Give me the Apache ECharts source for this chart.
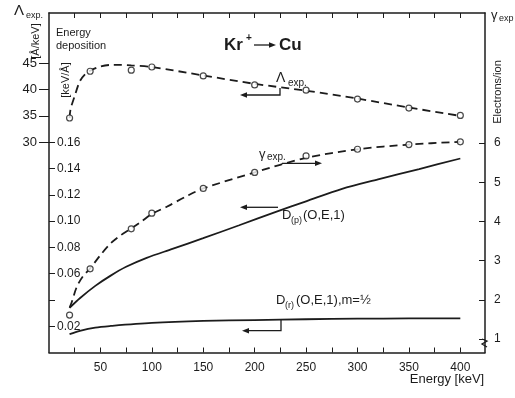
<!DOCTYPE html>
<html>
<head>
<meta charset="utf-8">
<script src="https://cdn.jsdelivr.net/npm/echarts@6/dist/echarts.min.js"></script>
<style>
  html, body { margin: 0; padding: 0; background: #fff; }
  #chart { width: 515px; height: 398px; }
</style>
</head>
<body>
<div id="chart"></div>
<script>
  // axis ticks / labels
  var energyTicks = [25, 50, 75, 100, 125, 150, 175, 200, 225, 250, 275, 300, 325, 350, 375, 400];
  var energyLabels = [50, 100, 150, 200, 250, 300, 350, 400];
  var lambdaTicks = [30, 35, 40, 45];
  var depTicks = [0.02, 0.04, 0.06, 0.08, 0.10, 0.12, 0.14, 0.16];
  var depLabels = [0.02, 0.06, 0.08, 0.10, 0.12, 0.14, 0.16];
  var gammaTicks = [1, 2, 3, 4, 5, 6];

  // measured points (circles)
  var expEnergy = [20, 40, 80, 100, 150, 200, 250, 300, 350, 400];
  var lambdaExp = [34.6, 43.5, 43.7, 44.3, 42.6, 40.9, 39.9, 38.2, 36.5, 35.1];
  var gammaExp = [1.61, 2.79, 3.81, 4.21, 4.84, 5.25, 5.67, 5.84, 5.96, 6.03];

  // dashed curves through the points
  var lambdaFitE = [20, 21, 25, 30, 35, 40, 50, 60, 70, 80, 100, 150, 200, 250, 300, 350, 400];
  var lambdaFit = [34.6, 36.3, 38.8, 41.6, 42.9, 43.6, 44.4, 44.7, 44.7, 44.6, 44.3, 42.7, 41.1, 39.8, 38.3, 36.6, 35.0];
  var gammaFitE = [20, 22, 27, 33, 40, 50, 60, 70, 80, 90, 100, 115, 135, 150, 200, 250, 300, 350, 400];
  var gammaFit = [1.8, 1.93, 2.33, 2.6, 2.8, 3.14, 3.44, 3.65, 3.82, 4.0, 4.19, 4.38, 4.66, 4.84, 5.25, 5.62, 5.84, 5.96, 6.03];

  // computed energy deposition D (keV/A)
  var dpE = [20, 30, 45, 60, 75, 95, 120, 150, 185, 220, 250, 285, 320, 360, 400];
  var dp = [0.034, 0.0413, 0.0507, 0.0585, 0.0652, 0.0720, 0.0788, 0.0870, 0.0968, 0.1068, 0.1150, 0.1245, 0.1317, 0.1396, 0.1476];
  var drE = [20, 30, 45, 60, 100, 150, 200, 250, 300, 350, 400];
  var dr = [0.014, 0.0165, 0.019, 0.0202, 0.0225, 0.0240, 0.0247, 0.0253, 0.0257, 0.0259, 0.0259];

  function pairs(xs, ys) {
    var out = [];
    for (var i = 0; i < xs.length; i++) out.push([xs[i], ys[i]]);
    return out;
  }

  var ink = '#1c1c1c';
  var font = 'Liberation Sans, Arial, sans-serif';

  function txt(x, y, s, size, extra) {
    var o = {
      type: 'text', x: x, y: y, silent: true,
      style: { text: s, fill: ink, font: (extra && extra.bold ? 'bold ' : '') + size + 'px ' + font,
        textAlign: (extra && extra.align) || 'left', textVerticalAlign: 'middle' }
    };
    if (extra && extra.rot) { o.rotation = extra.rot; o.style.textAlign = 'center'; }
    return o;
  }
  function line(pts) {
    return { type: 'polyline', silent: true, shape: { points: pts }, style: { stroke: ink, lineWidth: 1.3, fill: null } };
  }
  function head(x, y, dir) {
    // small filled arrow head, dir = -1 left, 1 right
    return { type: 'polygon', silent: true,
      shape: { points: [[x, y], [x - dir * 7, y - 2.8], [x - dir * 7, y + 2.8]] },
      style: { fill: ink } };
  }

  var myChart = echarts.init(document.getElementById('chart'));
  var option = {
    backgroundColor: '#fff',
    animation: false,
    grid: { left: 49, right: 30, top: 13, bottom: 45.5 },
    xAxis: [{
      type: 'value', min: 0, max: 424, position: 'bottom',
      axisLine: { show: true, onZero: false, lineStyle: { color: ink, width: 1.5 } },
      axisTick: { show: true, inside: true, length: 5, customValues: energyTicks, lineStyle: { color: ink } },
      axisLabel: { customValues: energyLabels, color: ink, fontSize: 12, fontFamily: font, margin: 9 },
      splitLine: { show: false }
    }, {
      type: 'value', min: 0, max: 424, position: 'top',
      axisLine: { show: true, onZero: false, lineStyle: { color: ink, width: 1.5 } },
      axisTick: { show: true, inside: true, length: 5, customValues: energyTicks, lineStyle: { color: ink } },
      axisLabel: { show: false },
      splitLine: { show: false }
    }],
    yAxis: [{
      // D, keV/A (labels inside)
      type: 'value', min: 0, max: 0.2583, position: 'left',
      axisLine: { show: true, onZero: false, lineStyle: { color: ink, width: 1.5 } },
      axisTick: { show: true, inside: true, length: 6, customValues: depTicks, lineStyle: { color: ink } },
      axisLabel: { inside: true, margin: 8, customValues: depLabels, color: ink, fontSize: 12, fontFamily: font,
        formatter: function (v) { return v.toFixed(2); } },
      splitLine: { show: false }
    }, {
      // Lambda exp, A/keV (labels outside)
      type: 'value', min: -10, max: 54.575, position: 'left',
      axisLine: { show: false, onZero: false },
      axisTick: { show: true, length: 10, customValues: lambdaTicks, lineStyle: { color: ink } },
      axisLabel: { margin: 12, customValues: lambdaTicks, color: ink, fontSize: 13, fontFamily: font },
      splitLine: { show: false }
    }, {
      // gamma exp, electrons/ion
      type: 'value', min: 0.656, max: 9.316, position: 'right',
      axisLine: { show: true, onZero: false, lineStyle: { color: ink, width: 1.5 } },
      axisTick: { show: true, inside: true, length: 6, customValues: gammaTicks, lineStyle: { color: ink } },
      axisLabel: { margin: 9, customValues: gammaTicks, color: ink, fontSize: 12, fontFamily: font },
      splitLine: { show: false }
    }],
    series: [{
      name: 'lambdaFit', type: 'line', yAxisIndex: 1, smooth: 0.3, symbol: 'none',
      lineStyle: { color: ink, width: 1.8, type: [8, 5] }, data: pairs(lambdaFitE, lambdaFit)
    }, {
      name: 'gammaFit', type: 'line', yAxisIndex: 2, smooth: 0.3, symbol: 'none',
      lineStyle: { color: ink, width: 1.8, type: [8, 5] }, data: pairs(gammaFitE, gammaFit)
    }, {
      name: 'Dp', type: 'line', yAxisIndex: 0, smooth: 0.3, symbol: 'none',
      lineStyle: { color: ink, width: 1.8 }, data: pairs(dpE, dp)
    }, {
      name: 'Dr', type: 'line', yAxisIndex: 0, smooth: 0.3, symbol: 'none',
      lineStyle: { color: ink, width: 1.8 }, data: pairs(drE, dr)
    }, {
      name: 'lambdaExp', type: 'scatter', yAxisIndex: 1, symbol: 'circle', symbolSize: 6,
      itemStyle: { color: '#fff', borderColor: ink, borderWidth: 1.2 }, data: pairs(expEnergy, lambdaExp), z: 5
    }, {
      name: 'gammaExp', type: 'scatter', yAxisIndex: 2, symbol: 'circle', symbolSize: 6,
      itemStyle: { color: '#fff', borderColor: ink, borderWidth: 1.2 }, data: pairs(expEnergy, gammaExp), z: 5
    }],
    graphic: [
      // left axis titles
      txt(14, 11, 'Λ', 15),
      txt(26, 16, 'exp.', 9),
      txt(35.5, 41, '[Å/keV]', 11, { rot: Math.PI / 2 }),
      txt(56, 33, 'Energy', 11),
      txt(56, 46, 'deposition', 11),
      txt(66, 80, '[keV/Å]', 11, { rot: Math.PI / 2 }),
      // right axis titles
      txt(491, 15, 'γ', 13),
      txt(499, 19, 'exp', 9),
      txt(497.5, 92, 'Electrons/ion', 11, { rot: Math.PI / 2 }),
      // x axis title
      txt(447, 379, 'Energy [keV]', 13, { align: 'center' }),
      // projectile / target
      txt(224, 45, 'Kr', 17, { bold: true }),
      txt(246, 38, '+', 10, { bold: true }),
      line([[254, 45], [270, 45]]), head(276, 45, 1),
      txt(279, 45, 'Cu', 17, { bold: true }),
      // curve labels and arrows
      txt(276, 78, 'Λ', 14),
      txt(288, 83, 'exp.', 10),
      line([[280, 88], [280, 95], [247, 95]]), head(240, 95, -1),
      txt(259, 154, 'γ', 13),
      txt(267, 157, 'exp.', 10),
      line([[282, 163.3], [315, 163.3]]), head(322, 163.3, 1),
      txt(282, 215, 'D', 13),
      txt(291, 221, '(p)', 9),
      txt(303, 215, '(O,E,1)', 13),
      line([[278, 207.3], [247, 207.3]]), head(240, 207.3, -1),
      txt(276, 300, 'D', 13),
      txt(285, 306, '(r)', 9),
      txt(296, 300, '(O,E,1),m=½', 13),
      line([[281, 320], [281, 330.7], [249, 330.7]]), head(242, 330.7, -1),
      // break mark on right axis
      line([[482, 339], [487, 341], [482, 344], [487, 347]])
    ]
  };
  myChart.setOption(option);
</script>
</body>
</html>
